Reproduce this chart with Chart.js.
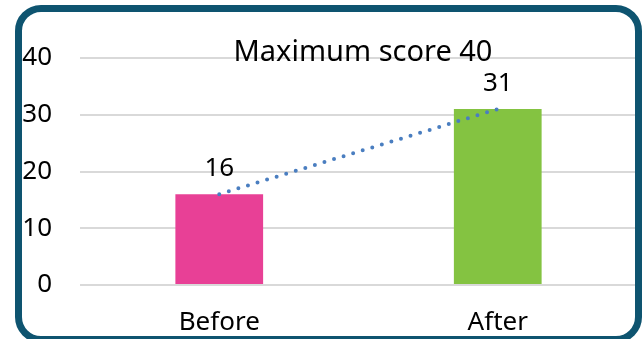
<!DOCTYPE html>
<html>
<head>
<meta charset="utf-8">
<script src="https://cdn.jsdelivr.net/npm/chart.js@4.4.1/dist/chart.umd.min.js"></script>
<style>
  html, body { margin: 0; padding: 0; background: #ffffff; }
  #wrap { position: relative; width: 643px; height: 339px; overflow: hidden; }
  #c { position: absolute; left: 0; top: 0; }
  #frame {
    position: absolute; left: 15px; top: 5px; width: 613px; height: 324px;
    border: 7px solid #0E5470; border-radius: 26px; pointer-events: none;
  }
</style>
</head>
<body>
<div id="wrap">
  <canvas id="c" width="643" height="339"></canvas>
  <div id="frame"></div>
</div>
<script>
const categories = ["Before", "After"];
const scores = [16, 31];
const barColors = ["#E84096", "#84C341"];
const yTicks = [0, 10, 20, 30, 40];
const noteText = "Maximum score 40";

const FONT = "'Noto Sans', sans-serif";

const labelsPlugin = {
  id: 'valueLabels',
  afterDatasetsDraw(chart) {
    const ctx = chart.ctx;
    const meta = chart.getDatasetMeta(0);
    ctx.save();
    ctx.fillStyle = '#000000';
    ctx.font = "26px " + FONT;
    ctx.textAlign = 'center';
    ctx.textBaseline = 'alphabetic';
    meta.data.forEach((bar, i) => {
      ctx.fillText(String(scores[i]), bar.x, bar.y - 18);
    });
    ctx.font = "29px " + FONT;
    ctx.fillText(noteText, 363, 61);
    ctx.restore();
  }
};

new Chart(document.getElementById('c'), {
  data: {
    labels: categories,
    datasets: [
      {
        type: 'bar',
        data: scores,
        backgroundColor: barColors,
        borderWidth: 0,
        barPercentage: 0.63,
        categoryPercentage: 0.5,
        order: 2
      },
      {
        type: 'line',
        data: scores,
        borderColor: '#4A7EC0',
        borderWidth: 4,
        borderDash: [0, 10],
        borderCapStyle: 'round',
        pointRadius: 0,
        fill: false,
        tension: 0,
        order: 1
      }
    ]
  },
  plugins: [labelsPlugin],
  options: {
    responsive: false,
    animation: false,
    layout: { padding: { top: 58, right: 6, bottom: 0, left: 0 } },
    plugins: { legend: { display: false }, tooltip: { enabled: false }, title: { display: false } },
    scales: {
      x: {
        offset: true,
        grid: { display: false, drawTicks: false },
        border: { display: false },
        ticks: { color: '#000000', font: { family: FONT, size: 26 }, padding: 22 },
        afterFit(scale) { scale.height = 54; }
      },
      y: {
        min: 0, max: 40,
        afterBuildTicks(scale) { scale.ticks = yTicks.map(v => ({ value: v })); },
        grid: { color: '#D9D9D9', lineWidth: 2, drawTicks: false },
        border: { display: false },
        ticks: { color: '#000000', font: { family: FONT, size: 26 }, padding: 28 },
        afterFit(scale) { scale.width = 80; }
      }
    }
  }
});
</script>
</body>
</html>
